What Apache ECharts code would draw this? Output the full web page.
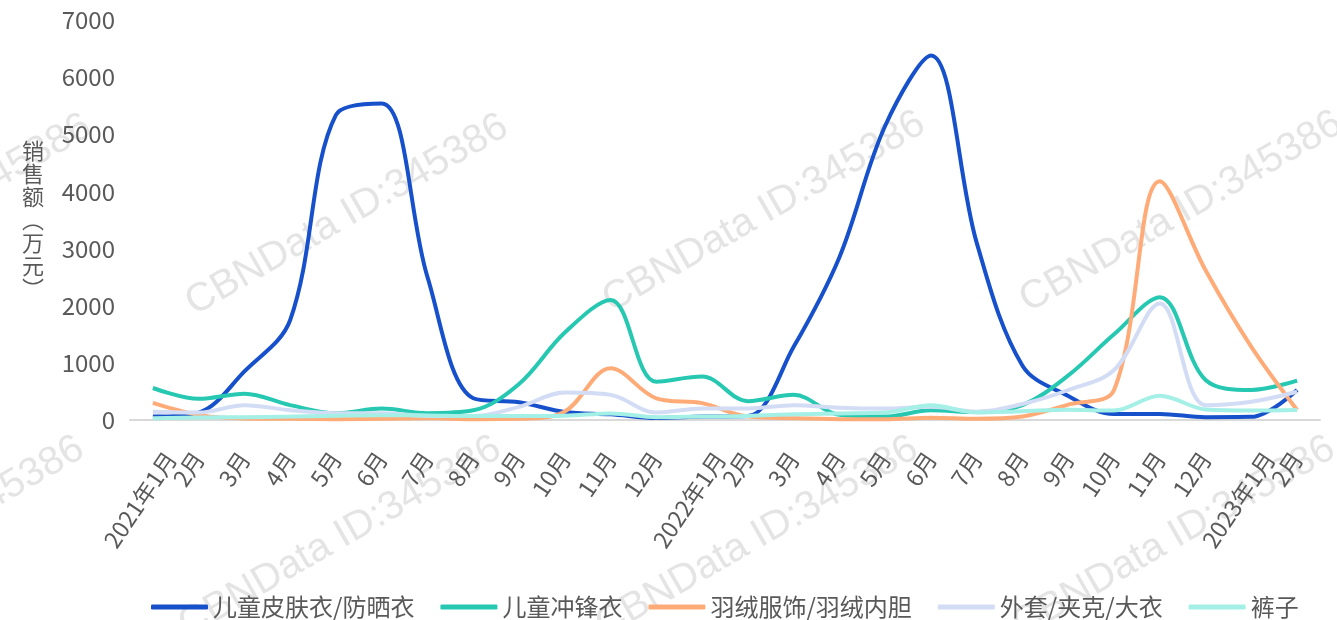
<!DOCTYPE html>
<html>
<head>
<meta charset="utf-8">
<script src="https://cdn.jsdelivr.net/npm/echarts@6/dist/echarts.min.js"></script>
<style>
html,body{margin:0;padding:0;background:#fff;}
#chart{width:1337px;height:620px;}
</style>
</head>
<body>
<div id="chart"></div>
<script>
const categories = ['2021年1月','2月','3月','4月','5月','6月','7月','8月','9月','10月','11月','12月',
  '2022年1月','2月','3月','4月','5月','6月','7月','8月','9月','10月','11月','12月',
  '2023年1月','2月'];
const seriesNames = ['儿童皮肤衣/防晒衣','儿童冲锋衣','羽绒服饰/羽绒内胆','外套/夹克/大衣','裤子'];
const sunProtect = [60,130,850,1750,5340,5540,2500,380,310,140,100,35,60,70,1280,2850,5150,6380,3100,950,420,105,105,50,55,525];
const windbreaker = [560,370,460,260,120,200,120,170,630,1530,2100,670,760,330,440,90,60,170,140,260,780,1500,2150,700,525,690];
const downWear = [300,90,25,20,15,20,30,15,20,150,905,380,295,60,30,15,15,40,20,60,270,525,4180,2620,1280,175];
const coats = [145,130,260,170,120,120,70,70,230,480,440,130,200,200,260,215,200,230,145,280,525,875,2040,260,320,495];
const trousers = [30,45,50,60,75,85,80,70,70,75,115,50,60,70,100,115,130,260,130,155,180,165,425,185,165,175];
const yTicks = {min:0, max:7000, interval:1000};
const yAxisName = '销售额（万元）';
const watermarkText = 'CBNData ID:345386';

const colors = ['#1650CA','#26C8B2','#FFAB78','#D2DCF4','#A4EFE6'];
const values = [sunProtect, windbreaker, downWear, coats, trousers];

const font = '"Noto Sans CJK SC", "Noto Sans", sans-serif';
const labelColor = '#595959';

const verticalName = Array.from(yAxisName).map(c => c === '（' ? '︵' : (c === '）' ? '︶' : c)).join('\n');

const wmCenters = [[-70,215],[347,215],[764,212],[1181,212],[-77,537],[340,537],[757,537],[1174,537]];
const graphics = wmCenters.map(p => ({
  type: 'text', x: p[0], y: p[1], rotation: 30 * Math.PI / 180, z: -10, silent: true,
  style: { text: watermarkText, fill: '#e4e4e4', font: '40px "Liberation Sans", Arial, sans-serif', align: 'center', verticalAlign: 'middle' }
}));

const chart = echarts.init(document.getElementById('chart'));
chart.setOption({
  animation: false,
  backgroundColor: '#fff',
  color: colors,
  graphic: graphics,
  grid: { left: 130, right: 17, top: 20, bottom: 200, containLabel: false },
  legend: {
    left: 146, top: 590,
    itemWidth: 57, itemHeight: 5, itemGap: 26,
    icon: 'roundRect',
    textStyle: { fontSize: 24, color: labelColor, fontFamily: font },
    data: seriesNames
  },
  xAxis: {
    type: 'category',
    data: categories,
    boundaryGap: true,
    axisLine: { lineStyle: { color: '#d9d9d9', width: 2 } },
    axisTick: { show: false },
    axisLabel: {
      interval: 0, rotate: 56, margin: 34,
      fontSize: 23, color: labelColor, fontFamily: font,
      formatter: v => v.indexOf('年') >= 0 ? '{y|' + v + '}' : v,
      rich: { y: { fontSize: 23, color: labelColor, fontFamily: font, padding: [30, -10, 0, 0] } }
    }
  },
  yAxis: {
    type: 'value', min: yTicks.min, max: yTicks.max, interval: yTicks.interval,
    name: verticalName, nameLocation: 'middle', nameRotate: 0, nameGap: 86,
    nameTextStyle: { fontSize: 22, lineHeight: 23, color: labelColor, fontFamily: font },
    axisLine: { show: false }, axisTick: { show: false }, splitLine: { show: false },
    axisLabel: { fontSize: 24, color: labelColor, margin: 15, fontFamily: font, formatter: v => String(v) }
  },
  series: seriesNames.map((n, i) => ({
    name: n, type: 'line', data: values[i], smooth: 0.35, symbol: 'none',
    lineStyle: { width: 4, color: colors[i] }, itemStyle: { color: colors[i] }
  }))
});
</script>
</body>
</html>
